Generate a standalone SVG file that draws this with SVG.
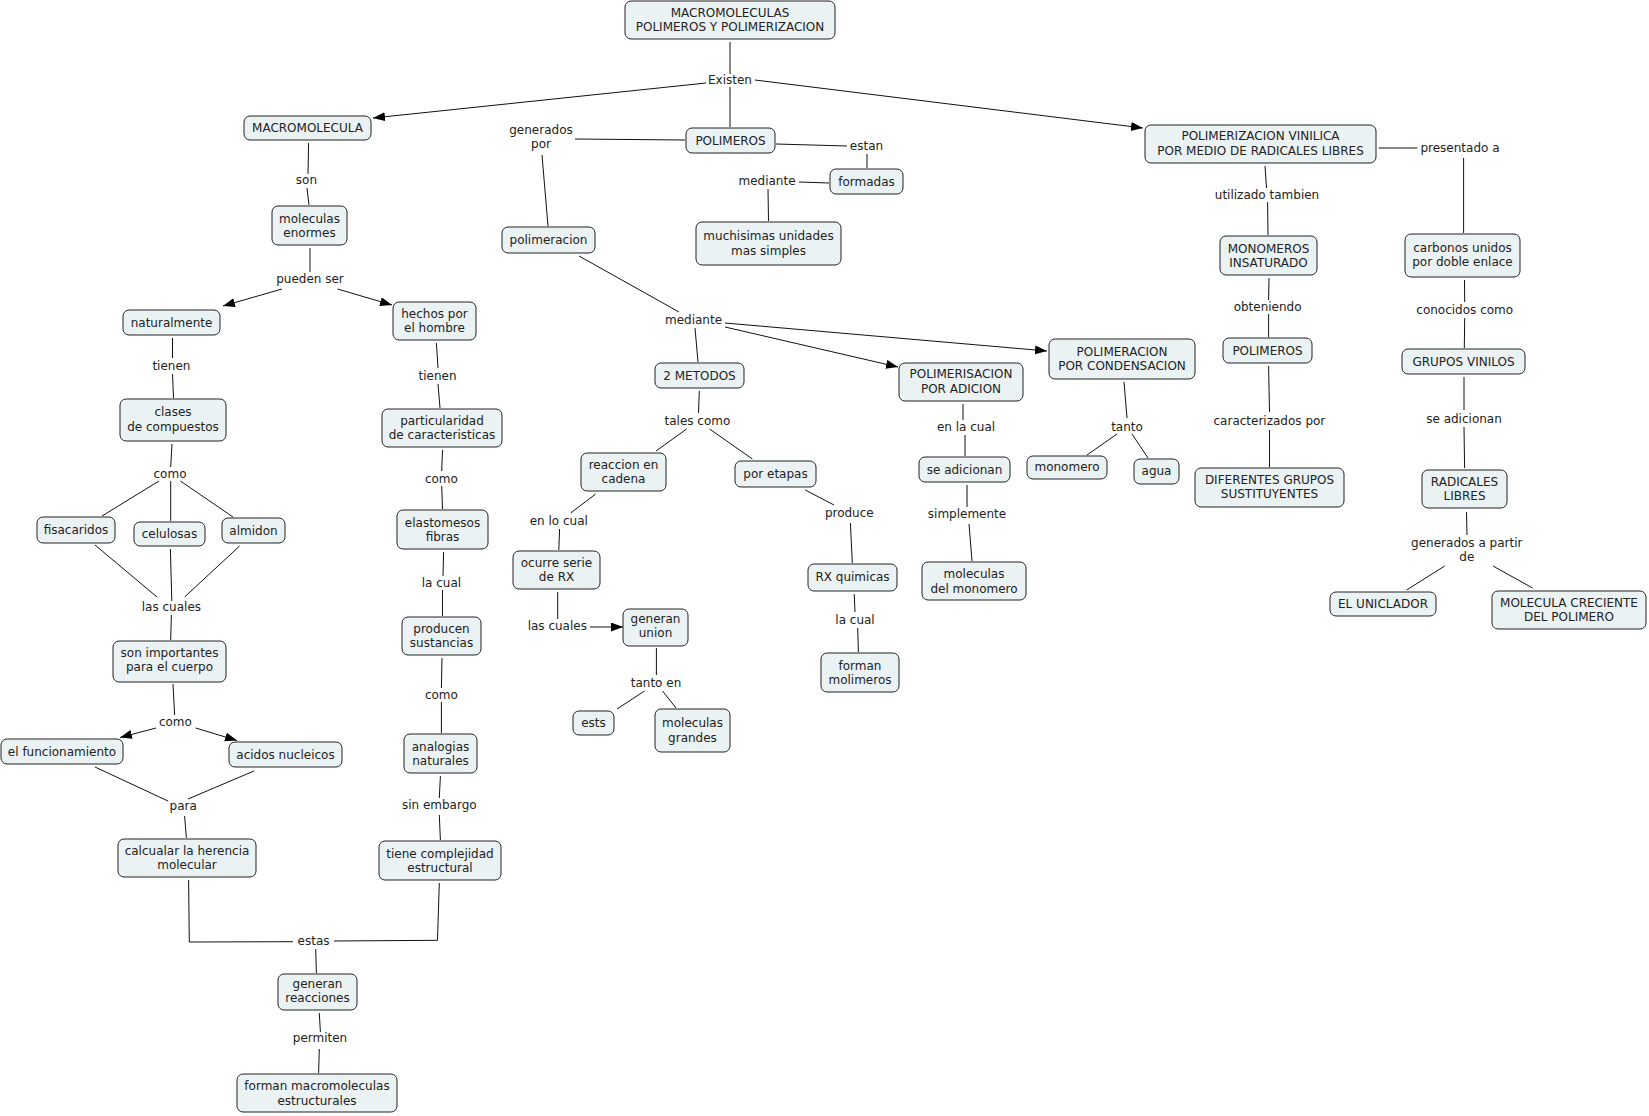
<svg xmlns="http://www.w3.org/2000/svg" width="1649" height="1116" viewBox="0 0 1649 1116">
<style>
.n rect{fill:#ebf2f4;stroke:#222;stroke-width:1}
text{font-family:"DejaVu Sans","Liberation Sans",sans-serif;font-size:12px;fill:#222;text-anchor:middle}
#connectors line,#connectors polyline{stroke:#111;stroke-width:1;fill:none}
</style>
<defs>
<marker id="ah" markerUnits="userSpaceOnUse" markerWidth="13" markerHeight="10" refX="12" refY="4.5" orient="auto"><path d="M0,0 L12,4.5 L0,9 z" fill="#000"/></marker>
</defs>
<rect width="1649" height="1116" fill="#fff"/>
<g id="connectors">
<line x1="730" y1="42" x2="730" y2="74"/>
<line x1="730" y1="87" x2="730" y2="127"/>
<line x1="706" y1="83" x2="373" y2="118" marker-end="url(#ah)"/>
<line x1="755" y1="80" x2="1143" y2="128" marker-end="url(#ah)"/>
<line x1="685" y1="140" x2="575" y2="139"/>
<line x1="542" y1="155" x2="548" y2="226"/>
<line x1="776" y1="144" x2="847" y2="146"/>
<line x1="867" y1="154" x2="867" y2="168"/>
<line x1="799" y1="182" x2="829" y2="183"/>
<line x1="768" y1="189" x2="768.5" y2="221"/>
<line x1="579" y1="256" x2="679" y2="312"/>
<line x1="695" y1="328" x2="698" y2="362"/>
<line x1="725" y1="327" x2="898" y2="367" marker-end="url(#ah)"/>
<line x1="725" y1="323" x2="1047" y2="351" marker-end="url(#ah)"/>
<line x1="308.6" y1="143" x2="308" y2="174"/>
<line x1="307" y1="188" x2="309" y2="205"/>
<line x1="310" y1="248" x2="310" y2="272"/>
<line x1="282" y1="289" x2="223" y2="306" marker-end="url(#ah)"/>
<line x1="337.5" y1="289" x2="392" y2="305" marker-end="url(#ah)"/>
<line x1="172.5" y1="338" x2="172.5" y2="358"/>
<line x1="172.5" y1="374" x2="173.5" y2="398"/>
<line x1="436.4" y1="343" x2="438" y2="368"/>
<line x1="438" y1="384" x2="440" y2="408"/>
<line x1="172" y1="444" x2="170.7" y2="467"/>
<line x1="159" y1="481" x2="102" y2="516"/>
<line x1="170.7" y1="481" x2="170.7" y2="521"/>
<line x1="180.4" y1="481" x2="233" y2="517"/>
<line x1="95" y1="545" x2="157" y2="597"/>
<line x1="170.4" y1="549" x2="171.8" y2="601"/>
<line x1="239.6" y1="546" x2="184.6" y2="597"/>
<line x1="171.4" y1="615" x2="170.7" y2="640"/>
<line x1="173" y1="684" x2="174.6" y2="715"/>
<line x1="156" y1="728" x2="120" y2="737.5" marker-end="url(#ah)"/>
<line x1="195.7" y1="728" x2="237" y2="740.5" marker-end="url(#ah)"/>
<line x1="95" y1="767" x2="168" y2="801"/>
<line x1="254" y1="771" x2="188" y2="799"/>
<line x1="184.6" y1="816" x2="186.4" y2="838"/>
<polyline points="188.6,880 189.3,942 293,941.7"/>
<polyline points="334,941 437.5,940.3 439.3,883"/>
<line x1="315.7" y1="949" x2="316.4" y2="973"/>
<line x1="319.3" y1="1013" x2="320.4" y2="1032"/>
<line x1="319.3" y1="1049" x2="318.6" y2="1073"/>
<line x1="442.5" y1="450" x2="441.7" y2="471"/>
<line x1="441.7" y1="486" x2="442.5" y2="509"/>
<line x1="443.6" y1="552" x2="443" y2="576"/>
<line x1="442.5" y1="590" x2="442.5" y2="616"/>
<line x1="442" y1="658" x2="441.4" y2="688"/>
<line x1="441.4" y1="702" x2="441.4" y2="733"/>
<line x1="440.4" y1="776" x2="439.3" y2="798"/>
<line x1="439.3" y1="815" x2="440.4" y2="840"/>
<line x1="699.3" y1="391" x2="698.5" y2="413"/>
<line x1="686.6" y1="429" x2="656" y2="451"/>
<line x1="709.6" y1="429" x2="752.4" y2="459"/>
<line x1="595.6" y1="494" x2="570.7" y2="513"/>
<line x1="559.6" y1="529" x2="558.8" y2="550"/>
<line x1="557.7" y1="592" x2="557.7" y2="619"/>
<line x1="590" y1="627" x2="623" y2="627" marker-end="url(#ah)"/>
<line x1="656.4" y1="648" x2="656.4" y2="675"/>
<line x1="644.5" y1="691" x2="617" y2="709"/>
<line x1="662.5" y1="691" x2="676" y2="708"/>
<line x1="805.3" y1="490" x2="834" y2="505"/>
<line x1="850.4" y1="523" x2="852.3" y2="563"/>
<line x1="854.2" y1="594" x2="855" y2="612"/>
<line x1="857.7" y1="628" x2="858.4" y2="652"/>
<line x1="963" y1="404" x2="963" y2="420"/>
<line x1="965" y1="435" x2="965" y2="456"/>
<line x1="967" y1="485" x2="967" y2="507"/>
<line x1="969" y1="524" x2="972" y2="561"/>
<line x1="1124" y1="382" x2="1127" y2="418"/>
<line x1="1117" y1="434" x2="1087" y2="455"/>
<line x1="1132" y1="434" x2="1148" y2="458"/>
<line x1="1378.7" y1="148" x2="1417.5" y2="148"/>
<line x1="1463.6" y1="158" x2="1463.6" y2="233"/>
<line x1="1265" y1="166" x2="1266.5" y2="188"/>
<line x1="1267.6" y1="202" x2="1268" y2="235"/>
<line x1="1269" y1="278" x2="1268.6" y2="300"/>
<line x1="1268.6" y1="314" x2="1268.6" y2="337"/>
<line x1="1268.6" y1="366" x2="1269.5" y2="412"/>
<line x1="1269.5" y1="430" x2="1269.5" y2="467"/>
<line x1="1464.5" y1="280" x2="1464.7" y2="302"/>
<line x1="1464.7" y1="318" x2="1464.3" y2="348"/>
<line x1="1464" y1="377" x2="1464" y2="410"/>
<line x1="1464" y1="427" x2="1464.6" y2="468"/>
<line x1="1466.5" y1="512" x2="1467" y2="535"/>
<line x1="1444.7" y1="566" x2="1406.6" y2="590"/>
<line x1="1493" y1="566" x2="1532.5" y2="588"/>
</g>
<g id="linking-phrases">
<text x="730" y="84">Existen</text>
<text x="541" y="134">generados</text><text x="541" y="148">por</text>
<text x="866.5" y="150">estan</text>
<text x="767" y="185">mediante</text>
<text x="693.5" y="324">mediante</text>
<text x="306.4" y="184">son</text>
<text x="310" y="283">pueden ser</text>
<text x="171.4" y="370">tienen</text>
<text x="437.5" y="380">tienen</text>
<text x="170" y="478">como</text>
<text x="441.4" y="483">como</text>
<text x="171.4" y="611">las cuales</text>
<text x="441.4" y="587">la cual</text>
<text x="175.4" y="726">como</text>
<text x="441.4" y="699">como</text>
<text x="183.2" y="810">para</text>
<text x="439.3" y="809">sin embargo</text>
<text x="313.6" y="945">estas</text>
<text x="320" y="1042">permiten</text>
<text x="697.4" y="425">tales como</text>
<text x="558.8" y="525">en lo cual</text>
<text x="557.3" y="630">las cuales</text>
<text x="656" y="687">tanto en</text>
<text x="849.3" y="517">produce</text>
<text x="855" y="624">la cual</text>
<text x="966" y="431">en la cual</text>
<text x="967" y="518">simplemente</text>
<text x="1127" y="431">tanto</text>
<text x="1460" y="152">presentado a</text>
<text x="1267" y="199">utilizado tambien</text>
<text x="1267.6" y="311">obteniendo</text>
<text x="1269.4" y="425">caracterizados por</text>
<text x="1464.7" y="314">conocidos como</text>
<text x="1464" y="423">se adicionan</text>
<text x="1466.8" y="547">generados a partir</text><text x="1466.8" y="561">de</text>
</g>
<g id="n-title" class="n"><rect x="625" y="1" width="210" height="38" rx="6"/><text x="730" y="17">MACROMOLECULAS</text><text x="730" y="31">POLIMEROS Y POLIMERIZACION</text></g>
<g id="n-macromolecula" class="n"><rect x="244" y="116" width="127" height="24" rx="6"/><text x="307.5" y="132">MACROMOLECULA</text></g>
<g id="n-polimeros" class="n"><rect x="686" y="128" width="89" height="25" rx="6"/><text x="730.5" y="145">POLIMEROS</text></g>
<g id="n-vinilica" class="n"><rect x="1145" y="125" width="231" height="38" rx="6"/><text x="1260.5" y="140">POLIMERIZACION VINILICA</text><text x="1260.5" y="155">POR MEDIO DE RADICALES LIBRES</text></g>
<g id="n-moleculas-enormes" class="n"><rect x="272" y="206" width="75" height="39" rx="6"/><text x="309.5" y="223">moleculas</text><text x="309.5" y="237">enormes</text></g>
<g id="n-naturalmente" class="n"><rect x="123" y="310" width="97" height="25" rx="6"/><text x="171.5" y="327">naturalmente</text></g>
<g id="n-hechos" class="n"><rect x="393" y="302" width="83" height="38" rx="6"/><text x="434.5" y="318">hechos por</text><text x="434.5" y="332">el hombre</text></g>
<g id="n-polimeracion" class="n"><rect x="502" y="227" width="93" height="26" rx="6"/><text x="548.5" y="244">polimeracion</text></g>
<g id="n-formadas" class="n"><rect x="830" y="169" width="73" height="25" rx="6"/><text x="866.5" y="186">formadas</text></g>
<g id="n-muchisimas" class="n"><rect x="696" y="222" width="145" height="43" rx="6"/><text x="768.5" y="240">muchisimas unidades</text><text x="768.5" y="255">mas simples</text></g>
<g id="n-2metodos" class="n"><rect x="655" y="363" width="89" height="25" rx="6"/><text x="699.5" y="380">2 METODOS</text></g>
<g id="n-adicion" class="n"><rect x="899" y="363" width="124" height="38" rx="6"/><text x="961" y="378">POLIMERISACION</text><text x="961" y="393">POR ADICION</text></g>
<g id="n-condensacion" class="n"><rect x="1049" y="339" width="146" height="40" rx="6"/><text x="1122" y="356">POLIMERACION</text><text x="1122" y="370">POR CONDENSACION</text></g>
<g id="n-monomeros" class="n"><rect x="1220" y="236" width="97" height="39" rx="6"/><text x="1268.5" y="253">MONOMEROS</text><text x="1268.5" y="267">INSATURADO</text></g>
<g id="n-carbonos" class="n"><rect x="1405" y="234" width="115" height="43" rx="6"/><text x="1462.5" y="252">carbonos unidos</text><text x="1462.5" y="266">por doble enlace</text></g>
<g id="n-polimeros2" class="n"><rect x="1223" y="338" width="89" height="25" rx="6"/><text x="1267.5" y="355">POLIMEROS</text></g>
<g id="n-grupos-vinilos" class="n"><rect x="1402" y="349" width="123" height="25" rx="6"/><text x="1463.5" y="366">GRUPOS VINILOS</text></g>
<g id="n-diferentes" class="n"><rect x="1195" y="468" width="149" height="39" rx="6"/><text x="1269.5" y="484">DIFERENTES GRUPOS</text><text x="1269.5" y="498">SUSTITUYENTES</text></g>
<g id="n-radicales" class="n"><rect x="1422" y="470" width="85" height="38" rx="6"/><text x="1464.5" y="486">RADICALES</text><text x="1464.5" y="500">LIBRES</text></g>
<g id="n-uniclador" class="n"><rect x="1330" y="592" width="106" height="24" rx="6"/><text x="1383" y="608">EL UNICLADOR</text></g>
<g id="n-molecula-creciente" class="n"><rect x="1492" y="591" width="154" height="38" rx="6"/><text x="1569" y="607">MOLECULA CRECIENTE</text><text x="1569" y="621">DEL POLIMERO</text></g>
<g id="n-clases" class="n"><rect x="120" y="399" width="106" height="42" rx="6"/><text x="173" y="416">clases</text><text x="173" y="431">de compuestos</text></g>
<g id="n-particularidad" class="n"><rect x="382" y="409" width="120" height="38" rx="6"/><text x="442" y="425">particularidad</text><text x="442" y="439">de caracteristicas</text></g>
<g id="n-fisacaridos" class="n"><rect x="37" y="517" width="78" height="26" rx="6"/><text x="76" y="534">fisacaridos</text></g>
<g id="n-celulosas" class="n"><rect x="134" y="522" width="71" height="24" rx="6"/><text x="169.5" y="538">celulosas</text></g>
<g id="n-almidon" class="n"><rect x="222" y="518" width="63" height="25" rx="6"/><text x="253.5" y="535">almidon</text></g>
<g id="n-elastomesos" class="n"><rect x="397" y="510" width="91" height="39" rx="6"/><text x="442.5" y="527">elastomesos</text><text x="442.5" y="541">fibras</text></g>
<g id="n-son-importantes" class="n"><rect x="113" y="641" width="113" height="41" rx="6"/><text x="169.5" y="657">son importantes</text><text x="169.5" y="671">para el cuerpo</text></g>
<g id="n-producen" class="n"><rect x="402" y="617" width="79" height="38" rx="6"/><text x="441.5" y="633">producen</text><text x="441.5" y="647">sustancias</text></g>
<g id="n-funcionamiento" class="n"><rect x="1" y="739" width="122" height="25" rx="6"/><text x="62" y="756">el funcionamiento</text></g>
<g id="n-acidos" class="n"><rect x="229" y="742" width="113" height="25" rx="6"/><text x="285.5" y="759">acidos nucleicos</text></g>
<g id="n-analogias" class="n"><rect x="404" y="734" width="73" height="39" rx="6"/><text x="440.5" y="751">analogias</text><text x="440.5" y="765">naturales</text></g>
<g id="n-calcualar" class="n"><rect x="118" y="839" width="138" height="38" rx="6"/><text x="187" y="855">calcualar la herencia</text><text x="187" y="869">molecular</text></g>
<g id="n-complejidad" class="n"><rect x="379" y="841" width="122" height="39" rx="6"/><text x="440" y="858">tiene complejidad</text><text x="440" y="872">estructural</text></g>
<g id="n-generan-reacciones" class="n"><rect x="278" y="974" width="79" height="36" rx="6"/><text x="317.5" y="988">generan</text><text x="317.5" y="1002">reacciones</text></g>
<g id="n-forman-macro" class="n"><rect x="237" y="1074" width="160" height="38" rx="6"/><text x="317" y="1090">forman macromoleculas</text><text x="317" y="1105">estructurales</text></g>
<g id="n-reaccion-cadena" class="n"><rect x="581" y="453" width="85" height="38" rx="6"/><text x="623.5" y="469">reaccion en</text><text x="623.5" y="483">cadena</text></g>
<g id="n-por-etapas" class="n"><rect x="735" y="461" width="81" height="26" rx="6"/><text x="775.5" y="478">por etapas</text></g>
<g id="n-ocurre" class="n"><rect x="513" y="551" width="87" height="38" rx="6"/><text x="556.5" y="567">ocurre serie</text><text x="556.5" y="581">de RX</text></g>
<g id="n-generan-union" class="n"><rect x="623" y="609" width="65" height="37" rx="6"/><text x="655.5" y="623">generan</text><text x="655.5" y="637">union</text></g>
<g id="n-ests" class="n"><rect x="573" y="711" width="41" height="24" rx="6"/><text x="593.5" y="727">ests</text></g>
<g id="n-moleculas-grandes" class="n"><rect x="655" y="709" width="75" height="43" rx="6"/><text x="692.5" y="727">moleculas</text><text x="692.5" y="742">grandes</text></g>
<g id="n-rx-quimicas" class="n"><rect x="808" y="564" width="89" height="27" rx="6"/><text x="852.5" y="581">RX quimicas</text></g>
<g id="n-forman-molimeros" class="n"><rect x="821" y="653" width="78" height="39" rx="6"/><text x="860" y="670">forman</text><text x="860" y="684">molimeros</text></g>
<g id="n-se-adicionan" class="n"><rect x="919" y="457" width="91" height="25" rx="6"/><text x="964.5" y="474">se adicionan</text></g>
<g id="n-moleculas-monomero" class="n"><rect x="922" y="562" width="104" height="38" rx="6"/><text x="974" y="578">moleculas</text><text x="974" y="593">del monomero</text></g>
<g id="n-monomero" class="n"><rect x="1027" y="456" width="80" height="23" rx="6"/><text x="1067" y="471">monomero</text></g>
<g id="n-agua" class="n"><rect x="1134" y="459" width="45" height="25" rx="6"/><text x="1156.5" y="475">agua</text></g>
</svg>
